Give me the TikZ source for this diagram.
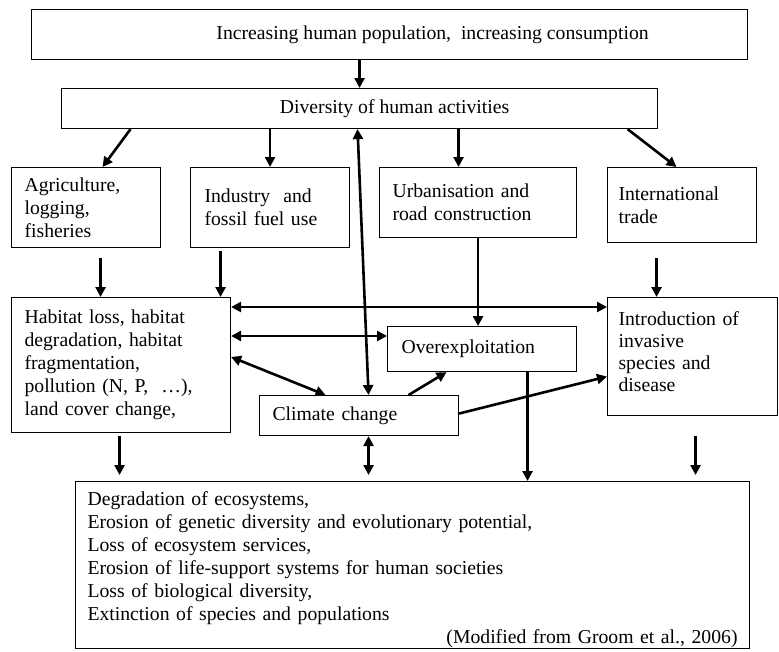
\documentclass[tikz,border=0pt]{standalone}
\usepackage{fontspec}
\setmainfont{Liberation Serif}
\usetikzlibrary{arrows.meta}
\tikzset{
  box/.style={draw, line width=1.1pt, rectangle, anchor=north west, inner ysep=0pt, align=left},
  cbox/.style={draw, line width=1.1pt, rectangle, anchor=north west, inner sep=0pt, align=center},
  arr/.style={line width=2.6pt, -{Triangle[length=10pt,width=10pt]}},
  darr/.style={line width=2.6pt, {Triangle[length=10pt,width=10pt]}-{Triangle[length=10pt,width=10pt]}},
}
\begin{document}
\begin{tikzpicture}[x=1pt, y={(0pt,-1pt)}, every node/.style={font=\fontsize{19.7}{23}\selectfont}]
\useasboundingbox (0,0) rectangle (779,651);

% boxes
\node[cbox, minimum width=716pt, minimum height=50pt] (top) at (31,9)
  {\hspace*{86pt}Increasing human population,\ \ increasing consumption};
\node[cbox, minimum width=596pt, minimum height=40pt] (div) at (61,88)
  {\hspace*{70pt}Diversity of human activities};

\node[box, inner xsep=13pt, text width=123pt, minimum height=80pt] (agri) at (11,167)
  {Agriculture,\\ logging,\\ fisheries};
\node[box, inner xsep=14pt, text width=131pt, minimum height=80pt] (ind) at (190,167)
  {Industry\ \ and\\ fossil fuel use};
\node[box, inner xsep=13pt, text width=171pt, minimum height=70pt] (urb) at (379,167)
  {Urbanisation and\\ road construction};
\node[box, inner xsep=11pt, text width=127pt, minimum height=75pt] (intl) at (607,167)
  {International\\ trade};

\node[box, inner xsep=13pt, text width=193pt, minimum height=135pt] (hab) at (11,297)
  {Habitat loss, habitat\\ degradation, habitat\\ fragmentation,\\ pollution (N, P,\ \ …),\\ land cover change,};
\node[box, inner xsep=11pt, text width=148pt, minimum height=118pt] (intro) at (607,297)
  {Introduction of\\[-0.7pt] invasive\\[-0.7pt] species and\\[-0.7pt] disease\\[-13pt]\mbox{}};
\node[box, inner xsep=14pt, text width=161pt, minimum height=45pt] (over) at (387,326)
  {Overexploitation};
\node[box, inner xsep=13pt, text width=173pt, minimum height=40pt] (clim) at (259,395)
  {Climate change};

\node[box, inner xsep=12pt, text width=650pt, minimum height=167pt] (bot) at (75,481)
  {\mbox{}\\
   Degradation of ecosystems,\\
   Erosion of genetic diversity and evolutionary potential,\\
   Loss of ecosystem services,\\
   Erosion of life-support systems for human societies\\
   Loss of biological diversity,\\
   Extinction of species and populations\\
   \hspace*{0pt}\hfill(Modified from Groom et al., 2006)\hspace*{-7pt}};

% connectors
\draw[arr] (div.north |- top.south) -- (div.north);
\draw[arr] ([xshift=-229pt]div.south) -- ([xshift=16.5pt]agri.north);
\draw[arr] (ind.north |- div.south) -- (ind.north);
\draw[arr] ([xshift=99pt]div.south) -- ([xshift=99pt]div.south |- urb.north);
\draw[arr] ([xshift=268pt]div.south) -- ([xshift=-5.5pt]intl.north);
\draw[darr] ([xshift=-2pt]div.south) -- ([xshift=9.5pt]clim.north);

\draw[arr] ([xshift=14.5pt,yshift=-10pt]agri.south) -- ([xshift=14.5pt]agri.south |- hab.north);
\draw[arr] ([xshift=-49.5pt,yshift=-3pt]ind.south) -- ([xshift=-49.5pt]ind.south |- hab.north);
\draw[arr] (urb.south) -- (urb.south |- over.north);
\draw[arr] ([xshift=-25.5pt,yshift=-15pt]intl.south) -- ([xshift=-25.5pt]intl.south |- intro.north);

\draw[darr] ([yshift=-10pt]hab.north east) -- ([yshift=-10pt]hab.north east -| intro.west);
\draw[darr] ([yshift=-39pt]hab.north east) -- ([yshift=-39pt]hab.north east -| over.west);
\draw[darr] ([yshift=-60pt]hab.north east) -- ([xshift=-33.5pt]clim.north);
\draw[arr] ([xshift=49.5pt]clim.north) -- ([xshift=-35.5pt]over.south);
\draw[arr] ([yshift=2pt]clim.east) -- ([yshift=-20pt]intro.west);

\draw[arr] ([xshift=45.5pt]over.south) -- ([xshift=45.5pt]over.south |- bot.north);
\draw[arr] ([xshift=-1.5pt,yshift=-3pt]hab.south) -- ([xshift=-1.5pt,yshift=6pt]hab.south |- bot.north);
\draw[darr] ([xshift=9.5pt]clim.south) -- ([xshift=9.5pt,yshift=6pt]clim.south |- bot.north);
\draw[arr] ([xshift=3pt,yshift=-20pt]intro.south) -- ([xshift=3pt,yshift=6pt]intro.south |- bot.north);
\end{tikzpicture}
\end{document}
